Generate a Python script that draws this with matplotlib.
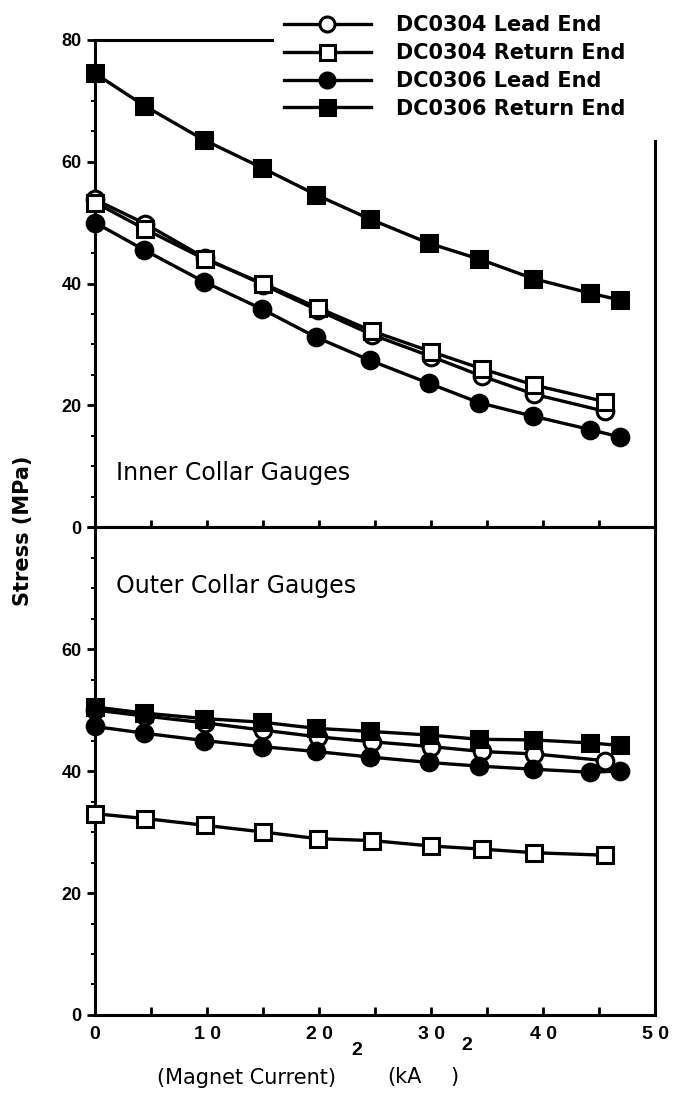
import matplotlib
matplotlib.use("Agg")
import matplotlib.pyplot as plt
from matplotlib.patches import Rectangle
from matplotlib.ticker import MultipleLocator

plt.rcParams['font.family'] = ['Liberation Sans', 'DejaVu Sans']

# x positions of the readings, (kA)^2
x_0304 = [0, 4.5, 9.8, 15.0, 19.9, 24.7, 30.0, 34.5, 39.2, 45.5]
x_0306 = [0, 4.4, 9.7, 14.9, 19.7, 24.5, 29.8, 34.3, 39.1, 44.2, 46.8]

# inner collar gauges (MPa)
inner_0304_lead = [53.8, 49.8, 44.2, 39.8, 35.6, 31.6, 28.0, 24.8, 21.8, 19.0]
inner_0304_return = [53.3, 48.9, 44.0, 40.0, 36.0, 32.2, 28.8, 26.0, 23.3, 20.6]
inner_0306_lead = [50.0, 45.5, 40.3, 35.8, 31.2, 27.4, 23.6, 20.4, 18.2, 16.0, 14.8]
inner_0306_return = [74.5, 69.2, 63.6, 59.0, 54.6, 50.6, 46.6, 44.0, 40.8, 38.4, 37.3]

# outer collar gauges (MPa)
outer_0304_lead = [50.0, 49.0, 47.9, 46.7, 45.6, 44.8, 44.0, 43.2, 42.8, 41.7]
outer_0304_return = [33.0, 32.2, 31.1, 30.0, 28.9, 28.6, 27.7, 27.2, 26.6, 26.2]
outer_0306_lead = [47.3, 46.2, 45.0, 44.0, 43.2, 42.3, 41.4, 40.8, 40.3, 39.8, 40.0]
outer_0306_return = [50.5, 49.5, 48.6, 48.0, 47.0, 46.5, 45.9, 45.2, 45.1, 44.6, 44.2]

labels = ['DC0304 Lead End', 'DC0304 Return End', 'DC0306 Lead End', 'DC0306 Return End']
xtick_labels = ['0', '1 0', '2 0', '3 0', '4 0', '5 0']

styles = [dict(marker='o', mfc='white'), dict(marker='s', mfc='white'),
          dict(marker='o', mfc='black'), dict(marker='s', mfc='black')]

fig = plt.figure(figsize=(6.86, 10.98), dpi=100)
left, width = 0.1385, 0.817
ax1 = fig.add_axes([left, 0.520, width, 0.4436])
ax2 = fig.add_axes([left, 0.0756, width, 0.4444])

def draw(ax, series):
    handles = []
    for (xs, ys), st in zip(series, styles):
        h, = ax.plot(xs, ys, color='black', lw=2.4, ms=12, mew=2.2, mec='black',
                     clip_on=False, zorder=3, **st)
        handles.append(h)
    ax.set_xlim(0, 50)
    ax.set_ylim(0, 80)
    for s in ax.spines.values():
        s.set_linewidth(2.2)
    ax.yaxis.set_minor_locator(MultipleLocator(5))
    ax.tick_params(axis='y', direction='out', length=6, width=2, labelsize=13)
    ax.tick_params(axis='y', which='minor', direction='out', length=3, width=1.4)
    return handles

handles = draw(ax1, [(x_0304, inner_0304_lead), (x_0304, inner_0304_return),
                     (x_0306, inner_0306_lead), (x_0306, inner_0306_return)])
draw(ax2, [(x_0304, outer_0304_lead), (x_0304, outer_0304_return),
           (x_0306, outer_0306_lead), (x_0306, outer_0306_return)])

ax1.set_yticks([0, 20, 40, 60, 80])
ax1.set_yticklabels(['0', '20', '40', '60', '80'], fontweight='bold')
ax1.xaxis.set_major_locator(MultipleLocator(5))
ax1.tick_params(axis='x', direction='inout', length=10, width=2, labelbottom=False)

ax2.set_yticks([0, 20, 40, 60, 80])
ax2.set_yticklabels(['0', '20', '40', '60', ''], fontweight='bold')
ax2.set_xticks([0, 10, 20, 30, 40, 50])
ax2.set_xticklabels(xtick_labels, fontweight='bold', fontsize=14)
ax2.xaxis.set_minor_locator(MultipleLocator(5))
ax2.tick_params(axis='x', which='both', direction='in', length=6, width=2, pad=8)

ax1.text(0.037, 0.11, 'Inner Collar Gauges', transform=ax1.transAxes, va='center',
         fontsize=17, family='DejaVu Sans')
ax2.text(0.037, 0.879, 'Outer Collar Gauges', transform=ax2.transAxes, va='center',
         fontsize=17, family='DejaVu Sans')

# white patch hides the top-right corner of the frame behind the legend
fig.patches.append(Rectangle((0.40, 0.8725), 0.6, 0.13, transform=fig.transFigure,
                             facecolor='white', edgecolor='none', zorder=5))
leg = fig.legend(handles, labels, loc='upper left', bbox_to_anchor=(0.386, 1.003),
                 frameon=False, handlelength=4.2, labelspacing=0.37, handletextpad=1.2,
                 markerscale=0.9, prop=dict(size=15, weight='bold', family='DejaVu Sans'))
leg.set_zorder(6)

fig.text(0.033, 0.517, 'Stress (MPa)', rotation=90, ha='center', va='center',
         fontsize=15, fontweight='bold', family='DejaVu Sans')
fig.text(0.36, 0.018, '(Magnet Current)', ha='center', va='center', fontsize=15,
         family='DejaVu Sans')
fig.text(0.52, 0.043, '2', ha='center', va='center', fontsize=14, fontweight='bold')
fig.text(0.59, 0.019, '(kA', ha='center', va='center', fontsize=15, family='DejaVu Sans')
fig.text(0.662, 0.019, ')', ha='center', va='center', fontsize=15, family='DejaVu Sans')
fig.text(0.68, 0.048, '2', ha='center', va='center', fontsize=14, fontweight='bold')

fig.savefig('out.png', dpi=100)
